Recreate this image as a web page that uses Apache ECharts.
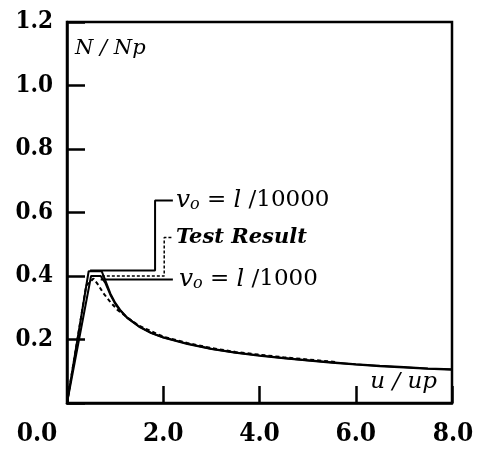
<!DOCTYPE html>
<html>
<head>
<meta charset="utf-8">
<script src="https://cdn.jsdelivr.net/npm/echarts@6/dist/echarts.min.js"></script>
<style>
  html, body { margin: 0; padding: 0; background: #fff; }
  #chart { width: 483px; height: 450px; }
</style>
</head>
<body>
<div id="chart"></div>
<script>
// Normalised axial force N/Np against normalised displacement u/up
const xTicks = [0, 2, 4, 6, 8];
const yTicks = [0, 0.2, 0.4, 0.6, 0.8, 1.0, 1.2];

// Analysis, initial imperfection v0 = l/10000
const curveL10000 = [
  [0, 0], [0.45, 0.415], [0.72, 0.415], [0.8, 0.385], [0.9, 0.345], [1.0, 0.316],
  [1.1, 0.294], [1.25, 0.269], [1.5, 0.241], [1.75, 0.221], [2.0, 0.207],
  [2.5, 0.187], [3.0, 0.171], [3.5, 0.159], [4.0, 0.15], [4.5, 0.142],
  [5.0, 0.135], [5.5, 0.128], [6.0, 0.122], [6.5, 0.117], [7.0, 0.113],
  [7.5, 0.109], [8.0, 0.106]
];

// Analysis, initial imperfection v0 = l/1000
const curveL1000 = [
  [0, 0], [0.5, 0.4], [0.7, 0.4], [0.8, 0.377], [0.9, 0.341], [1.0, 0.313],
  [1.1, 0.292], [1.25, 0.268], [1.5, 0.24], [1.75, 0.22], [2.0, 0.206],
  [2.5, 0.186], [3.0, 0.17], [3.5, 0.158], [4.0, 0.149], [4.5, 0.141],
  [5.0, 0.134], [5.5, 0.127], [6.0, 0.121], [6.5, 0.116], [7.0, 0.112],
  [7.5, 0.108], [8.0, 0.105]
];

// Experimental curve
const testResult = [
  [0, 0], [0.4, 0.37], [0.55, 0.392], [0.65, 0.372], [0.75, 0.347],
  [0.9, 0.318], [1.05, 0.293], [1.25, 0.27], [1.5, 0.243], [2.0, 0.209],
  [2.5, 0.189], [3.0, 0.173], [3.5, 0.161], [4.0, 0.152], [4.5, 0.144],
  [5.0, 0.137], [5.6, 0.129]
];

// Leader lines from the peaks to the curve names
const leaderL10000 = [[0.48, 0.417], [1.83, 0.417], [1.83, 0.638], [2.2, 0.638]];
const leaderTest = [[0.62, 0.4], [2.02, 0.4], [2.02, 0.521], [2.2, 0.521]];
const leaderL1000 = [[0.7, 0.389], [2.2, 0.389]];

const serif = '"DejaVu Serif", serif';
const numFont = '"DejaVu Serif Condensed", "DejaVu Serif", serif';
const chart = echarts.init(document.getElementById('chart'));

const voRich = {
  v: { fontFamily: serif, fontStyle: 'italic', fontSize: 25, color: '#000' },
  o: { fontFamily: serif, fontStyle: 'italic', fontSize: 16, color: '#000', padding: [8, 0, 0, 0] },
  t: { fontFamily: serif, fontSize: 23, color: '#000' },
  l: { fontFamily: serif, fontStyle: 'italic', fontSize: 24, color: '#000' }
};

function curve(name, data, dashed) {
  return {
    name, type: 'line', data, showSymbol: false, smooth: false, silent: true,
    lineStyle: { color: '#000', width: 2, type: dashed ? [4, 3] : 'solid' },
    z: 3
  };
}

function leader(data, dashed, label) {
  return {
    type: 'line', data, showSymbol: false, silent: true,
    lineStyle: { color: '#000', width: dashed ? 1.5 : 2, type: dashed ? [3, 2] : 'solid' },
    endLabel: Object.assign({ show: true, distance: 3 }, label),
    z: 2
  };
}

const xLabelStyle = { fontFamily: numFont, fontWeight: 'bold', fontSize: 26, color: '#000' };

chart.setOption({
  animation: false,
  backgroundColor: '#fff',
  grid: {
    left: 67, right: 31, top: 22, bottom: 47,
    show: true, borderColor: '#000', borderWidth: 2.5
  },
  xAxis: {
    type: 'value', min: xTicks[0], max: xTicks[xTicks.length - 1], interval: 2,
    axisLine: { show: true, lineStyle: { color: '#000', width: 2.5 } },
    axisTick: { show: true, inside: true, length: 17, lineStyle: { color: '#000', width: 2.5 } },
    splitLine: { show: false },
    axisLabel: Object.assign({
      margin: 18,
      formatter: v => v === 0 ? '{z|0.0}' : (v === 8 ? '{e|8.0}' : '{n|' + v.toFixed(1) + '}'),
      rich: {
        n: xLabelStyle,
        z: Object.assign({ padding: [0, 60, 0, 0] }, xLabelStyle),
        e: Object.assign({ padding: [0, 0, 0, 2] }, xLabelStyle)
      }
    }, xLabelStyle)
  },
  yAxis: {
    type: 'value', min: yTicks[0], max: yTicks[yTicks.length - 1], interval: 0.2,
    axisLine: { show: true, lineStyle: { color: '#000', width: 2.5 } },
    axisTick: { show: true, inside: true, length: 18, lineStyle: { color: '#000', width: 2.5 } },
    splitLine: { show: false },
    axisLabel: {
      margin: 14, color: '#000', fontFamily: numFont, fontWeight: 'bold', fontSize: 24,
      formatter: v => v === 0 ? '' : v.toFixed(1)
    }
  },
  graphic: [
    {
      type: 'text', left: 75, top: 38, silent: true,
      style: { text: 'N / Np', font: 'italic 21px "DejaVu Serif", serif', fill: '#000' }
    },
    {
      type: 'text', right: 46, top: 371, silent: true,
      style: { text: 'u / up', font: 'italic 23px "DejaVu Serif", serif', fill: '#000' }
    }
  ],
  series: [
    curve('v0 = l/10000', curveL10000, false),
    curve('v0 = l/1000', curveL1000, false),
    curve('Test Result', testResult, true),
    leader(leaderL10000, false, {
      formatter: '{v|v}{o|o}{t| = }{l|l}{t| /10000}', rich: voRich
    }),
    leader(leaderTest, true, {
      formatter: 'Test Result', color: '#000',
      fontFamily: serif, fontStyle: 'italic', fontWeight: 'bold', fontSize: 21
    }),
    leader(leaderL1000, false, {
      formatter: '{v|v}{o|o}{t| = }{l|l}{t| /1000}', rich: voRich, distance: 6
    })
  ]
});
</script>
</body>
</html>
